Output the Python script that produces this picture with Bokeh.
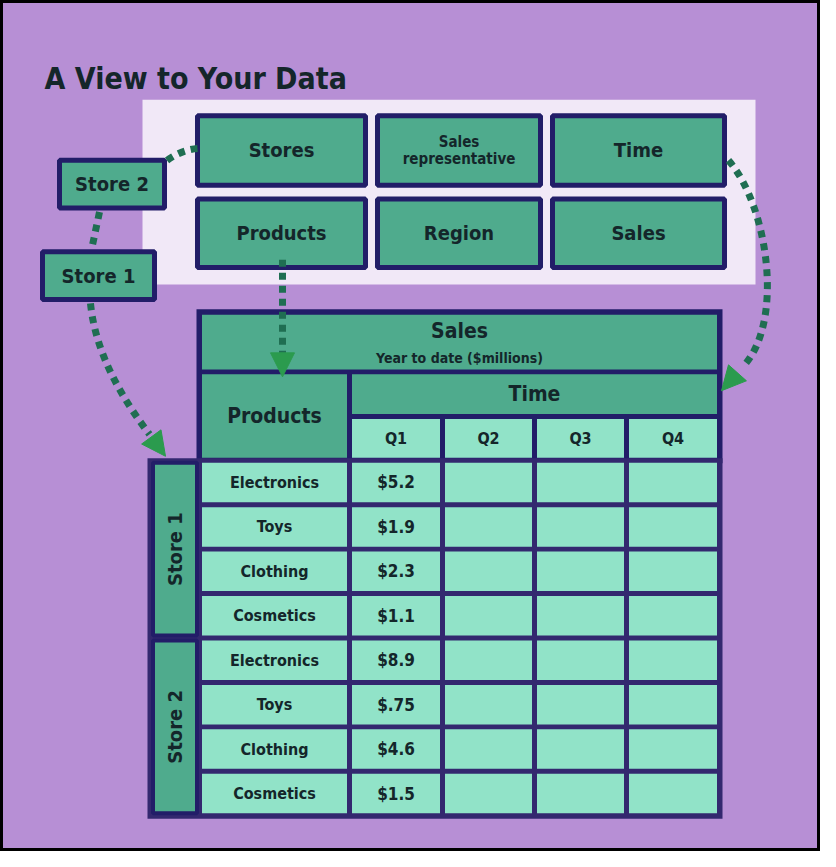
from bokeh.plotting import figure
from bokeh.models import Range1d, Arrow, NormalHead
from bokeh.core.properties import value
from bokeh.embed import file_html
from bokeh.resources import INLINE
import math

# ---------------- data ----------------
title = "A View to Your Data"
dimension_labels = ["Stores", "Sales\nrepresentative", "Time", "Products", "Region", "Sales"]
store_names = ["Store 1", "Store 2"]
products = ["Electronics", "Toys", "Clothing", "Cosmetics"]
quarters = ["Q1", "Q2", "Q3", "Q4"]
q1_sales_store1 = [5.2, 1.9, 2.3, 1.1]
q1_sales_store2 = [8.9, 0.75, 4.6, 1.5]
measure_title = "Sales"
measure_subtitle = "Year to date ($millions)"
time_title = "Time"
product_title = "Products"

# ---------------- styles ----------------
PURPLE = "#b78fd5"
PANEL = "#f1e8f7"
TEAL = "#4fab8d"
LIGHT = "#91e3c8"
NAVY = "#221d68"
GRID = "#33286f"
TXT = "#14262a"
DOT = "#1f6e52"
HEAD = "#2b9b4e"
FONT = value("DejaVu Sans Condensed")
FONT2 = value("DejaVu Sans Condensed")

def money(v):
    s = f"{v:g}"
    if s.startswith("0."):
        s = s[1:]
    return "$" + s

p = figure(width=820, height=851, x_range=Range1d(8, 828), y_range=Range1d(866, 9),
           output_backend="svg", toolbar_location=None, x_axis_type=None, y_axis_type=None,
           min_border=0, min_border_left=0, min_border_right=0, min_border_top=0, min_border_bottom=0)
p.grid.visible = False
p.background_fill_color = PURPLE
p.border_fill_color = "white"
p.outline_line_color = "black"
p.outline_line_width = 5

def box(x0, x1, y0, y1, fill, line=None, lw=0):
    p.quad(left=[x0], right=[x1], top=[y0], bottom=[y1], fill_color=fill,
           line_color=line if line else fill, line_width=lw if line else 0)

def label(x, y, t, size, align="center", angle=0.0, font=FONT2, baseline="middle"):
    p.text(x=[x], y=[y], text=[t], text_align=align, text_baseline=baseline, angle=angle,
           text_font=font, text_font_style="bold", text_font_size=size, text_color=TXT)

# title
label(52, 88, title, "30px", align="left", font=FONT, baseline="alphabetic")

# white panel with dimension boxes
box(150, 763, 109, 295, PANEL)
col_spans = [(205, 373), (385, 548), (560, 732)]
row_spans = [(125, 195), (209, 278)]
for i, name in enumerate(dimension_labels):
    cx0, cx1 = col_spans[i % 3]
    ry0, ry1 = row_spans[i // 3]
    box(cx0, cx1, ry0, ry1, TEAL, NAVY, 5)
    lines = name.split("\n")
    if len(lines) == 1:
        label((cx0 + cx1) / 2, (ry0 + ry1) / 2, lines[0], "20px")
    else:
        label((cx0 + cx1) / 2, (ry0 + ry1) / 2 - 9, lines[0], "15px")
        label((cx0 + cx1) / 2, (ry0 + ry1) / 2 + 9, lines[1], "15px")

# store boxes
store_boxes = [(50, 162, 262, 310), (67, 172, 170, 218)]
for (x0, x1, y0, y1), nm in zip(store_boxes, store_names):
    box(x0, x1, y0, y1, TEAL, NAVY, 5)
    label((x0 + x1) / 2, (y0 + y1) / 2, nm, "20px")

# ---------------- table ----------------
col_edges = [207, 357, 450, 542, 634, 727]
store_col = (158, 207)
hdr_top, hdr_mid, hdr_q, data_top = 323, 383, 428, 472
row_h = 44.75
n_rows = len(store_names) * len(products)
data_bottom = data_top + n_rows * row_h
g = 2.5

# dark base (grid lines)
box(col_edges[0] - 3, col_edges[-1] + 3, hdr_top - 3, data_top + 3, NAVY)
box(store_col[0] - 3, col_edges[-1] + 3, data_top - 2, data_bottom + 3, GRID)

# header cells
box(col_edges[0] + g, col_edges[-1] - g, hdr_top + g, hdr_mid - g, TEAL)
label((col_edges[0] + col_edges[-1]) / 2, hdr_top + 19, measure_title, "21px")
label((col_edges[0] + col_edges[-1]) / 2, hdr_top + 46, measure_subtitle, "14px")
box(col_edges[0] + g, col_edges[1] - g, hdr_mid + g, data_top - g, TEAL)
label((col_edges[0] + col_edges[1]) / 2, (hdr_mid + data_top) / 2, product_title, "21px")
box(col_edges[1] + g, col_edges[-1] - g, hdr_mid + g, hdr_q - g, TEAL)
label((col_edges[1] + col_edges[-1]) / 2, (hdr_mid + hdr_q) / 2, time_title, "21px")
for j, q in enumerate(quarters):
    x0, x1 = col_edges[j + 1], col_edges[j + 2]
    box(x0 + g, x1 - g, hdr_q + g, data_top - g, LIGHT)
    label((x0 + x1) / 2, (hdr_q + data_top) / 2, q, "16px")

# store label cells
for s, nm in enumerate(store_names):
    y0 = data_top + s * len(products) * row_h
    y1 = y0 + len(products) * row_h
    box(store_col[0] + g, store_col[1] - g, y0 + g, y1 - g, TEAL, NAVY, 4)
    label((store_col[0] + store_col[1]) / 2, (y0 + y1) / 2, nm, "20px", angle=math.pi / 2)

# data rows
all_values = [q1_sales_store1, q1_sales_store2]
for s in range(len(store_names)):
    for r, prod in enumerate(products):
        k = s * len(products) + r
        y0 = data_top + k * row_h
        y1 = y0 + row_h
        for c in range(len(col_edges) - 1):
            box(col_edges[c] + g, col_edges[c + 1] - g, y0 + g, y1 - g, LIGHT)
        label((col_edges[0] + col_edges[1]) / 2, (y0 + y1) / 2, prod, "16px")
        label((col_edges[1] + col_edges[2]) / 2, (y0 + y1) / 2, money(all_values[s][r]), "17px")

# ---------------- dotted connectors ----------------
dkw = dict(line_color=DOT, line_width=7, line_dash="7 6", line_cap="butt")
p.bezier(x0=[205], y0=[158], x1=[170], y1=[174], cx0=[192], cy0=[159], cx1=[178], cy1=[166], **dkw)
p.segment(x0=[107], y0=[222], x1=[99], y1=[260], **dkw)
p.bezier(x0=[98], y0=[314], x1=[157], y1=[446], cx0=[103], cy0=[365], cx1=[130], cy1=[410], **dkw)
p.segment(x0=[290], y0=[270], x1=[290], y1=[366], **dkw)
p.bezier(x0=[736], y0=[170], x1=[752], y1=[376], cx0=[775], cy0=[215], cx1=[792], cy1=[330], **dkw)

arrows = [((157, 446), (173, 468)), ((290, 366), (290, 388)), ((752, 376), (729, 402))]
for (xs, ys), (xe, ye) in arrows:
    p.add_layout(Arrow(end=NormalHead(size=24, fill_color=HEAD, line_color=HEAD, line_width=1),
                       x_start=xs, y_start=ys, x_end=xe, y_end=ye, line_alpha=0))

open("out.html", "w").write(file_html(p, INLINE))
